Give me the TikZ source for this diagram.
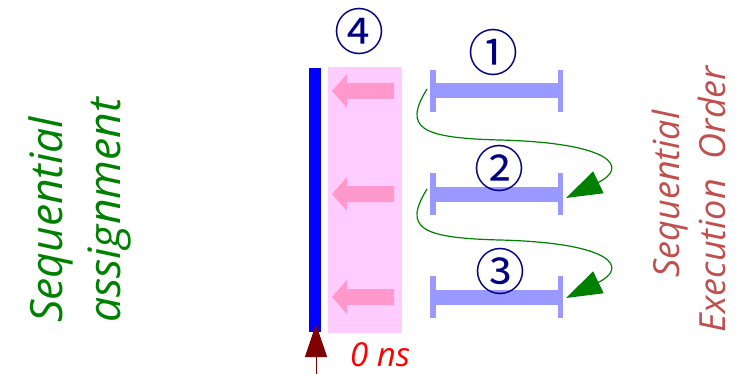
\documentclass[tikz,border=0pt]{standalone}
\usepackage{fontspec}
\setmainfont{Open Sans}
\newfontfamily\circfont{Noto Sans CJK JP}
\usetikzlibrary{arrows.meta}
\definecolor{barblue}{HTML}{9999FF}
\definecolor{pinkbg}{HTML}{FFCCFF}
\definecolor{pinkarr}{HTML}{FF99CC}
\definecolor{flowgreen}{HTML}{008000}
\definecolor{navy}{HTML}{000080}
\definecolor{darkred}{HTML}{800000}
\definecolor{ordercol}{HTML}{C0504D}
\tikzset{
  circnum/.style={text=navy, font=\circfont\fontsize{50}{56}\selectfont, inner sep=0pt},
  flow/.style={draw=flowgreen, line width=1.2pt, -{Triangle[length=36pt,width=24pt]}, fill=none},
  lefttext/.style={text=flowgreen, rotate=90, anchor=base west, inner sep=0pt, font=\itshape\fontsize{44.5}{50}\selectfont},
  righttext/.style={text=ordercol, rotate=90, anchor=base, inner sep=0pt, font=\itshape\fontsize{36}{42}\selectfont},
  pinkarrow/.style={fill=pinkarr},
  ibeam/.style={fill=barblue}
}
\begin{document}
\begin{tikzpicture}[x=1pt,y=-1pt]
\useasboundingbox (0,0) rectangle (743,374);
% pink zone and wall
\node[fill=pinkbg, minimum width=74pt, minimum height=266pt, inner sep=0pt, anchor=north west] (zone) at (328,67) {};
\node[fill=blue, minimum width=12pt, minimum height=264pt, inner sep=0pt, anchor=north west] (wall) at (309,68) {};
% pink arrows
\foreach \yy in {91,194,297}{
  \fill[pinkarrow] (394,\yy-8) -- (347,\yy-8) -- (347,\yy-17) -- (332,\yy) -- (347,\yy+17) -- (347,\yy+8) -- (394,\yy+8) -- cycle;
}
% I-beams
\foreach \yy in {91,194,297}{
  \fill[ibeam] (430,\yy-21) rectangle (436,\yy+21);
  \fill[ibeam] (436,\yy-7.5) rectangle (558,\yy+7.5);
  \fill[ibeam] (558,\yy-21) rectangle (563,\yy+21);
}
% circled numbers
\node[circnum] (n4) at (359,32) {④};
\node[circnum] (n1) at (493,53) {①};
\node[circnum] (n2) at (499,168) {②};
\node[circnum] (n3) at (500,271) {③};
% flow arrows
\coordinate (s1) at (427,89);
\coordinate (e1) at (566,198);
\coordinate (s2) at (427,189);
\coordinate (e2) at (566,298);
\draw[flow] (s1) .. controls (403,128) and (420,138) .. (500,140) .. controls (615,143) and (628,168) .. (e1);
\draw[flow] (s2) .. controls (403,228) and (420,238) .. (500,240) .. controls (615,243) and (628,268) .. (e2);
% time marker
\coordinate (tbase) at (316,374);
\coordinate (ttip) at (316,324);
\draw[darkred, line width=1pt, -{Triangle[length=33pt,width=22pt]}] (tbase) -- (ttip);
\node[text=red, anchor=base west, inner sep=0pt, font=\itshape\fontsize{33}{40}\selectfont] (ns) at (350,366) {0 ns};
% side texts
\node[lefttext] (l1) at (62,323) {Sequential};
\node[lefttext] (l2) at (120,323) {assignment};
\node[righttext] (r1) at (679,194) {Sequential};
\node[righttext] (r2) at (725,199) {Execution\hspace{0.3em} Order};
\end{tikzpicture}
\end{document}
